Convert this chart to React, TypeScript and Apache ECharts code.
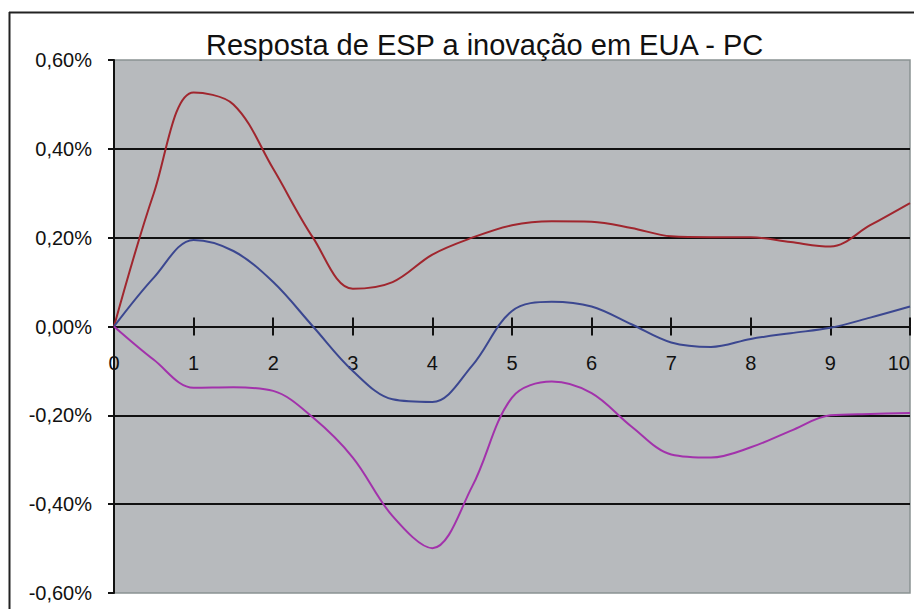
import React, { useEffect, useRef } from "react";
import * as echarts from "echarts";

const titleText = "Resposta de ESP a inovação em EUA - PC";
const periods = [0, 0.5, 1, 1.5, 2, 2.5, 3, 3.5, 4, 4.5, 5, 5.5, 6, 6.5, 7, 7.5, 8, 8.5, 9, 9.5, 10];
const yTicks = [-0.6, -0.4, -0.2, 0, 0.2, 0.4, 0.6];
const upperBand = [0, 0.30, 0.527, 0.50, 0.355, 0.2, 0.085, 0.10, 0.162, 0.2, 0.228, 0.237, 0.236, 0.222, 0.203, 0.201, 0.201, 0.19, 0.18, 0.228, 0.278];
const response = [0, 0.11, 0.195, 0.17, 0.10, 0, -0.10, -0.164, -0.17, -0.088, 0.035, 0.056, 0.045, 0.005, -0.036, -0.046, -0.028, -0.015, -0.003, 0.02, 0.045];
const lowerBand = [0, -0.075, -0.138, -0.137, -0.145, -0.205, -0.295, -0.427, -0.499, -0.36, -0.16, -0.124, -0.15, -0.225, -0.288, -0.295, -0.272, -0.235, -0.2, -0.197, -0.195];

const FONT = "Liberation Sans, Arial, sans-serif";
const GRID_TOP = 60;
const GRID_BOTTOM = 16;
const CHART_H = 609;

export default function App() {
  const ref = useRef<HTMLDivElement>(null);
  useEffect(() => {
    if (!ref.current) return;
    const chart = echarts.init(ref.current, null, { renderer: "svg" });
    const mk = (vals: number[]) => periods.map((p, i) => [p, vals[i]]);
    const splitColors = yTicks.map((v, i) => (i === 0 || i === yTicks.length - 1 ? "rgba(0,0,0,0)" : "#111"));
    const yMin = yTicks[0];
    const yMax = yTicks[yTicks.length - 1];
    const plotH = CHART_H - GRID_TOP - GRID_BOTTOM;
    const zeroFromBottom = (plotH * (0 - yMin)) / (yMax - yMin);
    chart.setOption({
      animation: false,
      backgroundColor: "#ffffff",
      title: {
        text: titleText,
        left: 201,
        top: 25,
        textStyle: { fontFamily: FONT, fontSize: 29, fontWeight: "normal", color: "#111" },
      },
      graphic: [
        { type: "line", shape: { x1: 9.5, y1: 12, x2: 9.5, y2: 609 }, style: { stroke: "#222", lineWidth: 2 } },
        { type: "line", shape: { x1: 9, y1: 12.5, x2: 914, y2: 12.5 }, style: { stroke: "#222", lineWidth: 2 } },
      ],
      grid: {
        left: 114,
        top: GRID_TOP,
        right: 4,
        bottom: GRID_BOTTOM,
        containLabel: false,
        outerBoundsMode: "none",
        show: true,
        backgroundColor: "#b7babd",
        borderColor: "#8a9292",
        borderWidth: 1.5,
      },
      xAxis: [
        {
          type: "value",
          min: 0,
          max: 10,
          interval: 1,
          position: "bottom",
          offset: -zeroFromBottom,
          axisLine: { onZero: false, lineStyle: { color: "#111", width: 2 } },
          axisTick: { show: true, length: 9, lineStyle: { color: "#111", width: 2 } },
          axisLabel: { margin: 26, fontFamily: FONT, fontSize: 20, color: "#111", alignMaxLabel: "right" },
          splitLine: { show: false },
        },
        {
          type: "value",
          min: 0,
          max: 10,
          interval: 1,
          position: "top",
          offset: -(plotH - zeroFromBottom),
          axisLine: { onZero: false, show: false },
          axisTick: { show: true, length: 9, lineStyle: { color: "#111", width: 2 } },
          axisLabel: { show: false },
          splitLine: { show: false },
        },
      ],
      yAxis: {
        type: "value",
        min: yMin,
        max: yMax,
        interval: 0.2,
        axisLine: { show: true, onZero: false, lineStyle: { color: "#111", width: 2 } },
        axisTick: { show: true, length: 6, lineStyle: { color: "#111", width: 2 } },
        axisLabel: {
          margin: 22,
          fontFamily: FONT,
          fontSize: 20,
          color: "#111",
          formatter: (v: number) => (Math.round(v * 100) / 100).toFixed(2).replace(".", ",") + "%",
        },
        splitLine: { show: true, lineStyle: { color: splitColors, width: 2 } },
      },
      series: [
        {
          type: "line",
          data: mk(upperBand),
          smooth: 0.35,
          showSymbol: false,
          lineStyle: { color: "#a0262e", width: 2 },
        },
        {
          type: "line",
          data: mk(response),
          smooth: 0.35,
          showSymbol: false,
          lineStyle: { color: "#3b4790", width: 2 },
        },
        {
          type: "line",
          data: mk(lowerBand),
          smooth: 0.35,
          showSymbol: false,
          lineStyle: { color: "#a232ab", width: 2 },
        },
      ],
    });
    return () => chart.dispose();
  }, []);
  return <div ref={ref} style={{ position: "fixed", left: 0, top: 0, width: 914, height: 609 }} />;
}
